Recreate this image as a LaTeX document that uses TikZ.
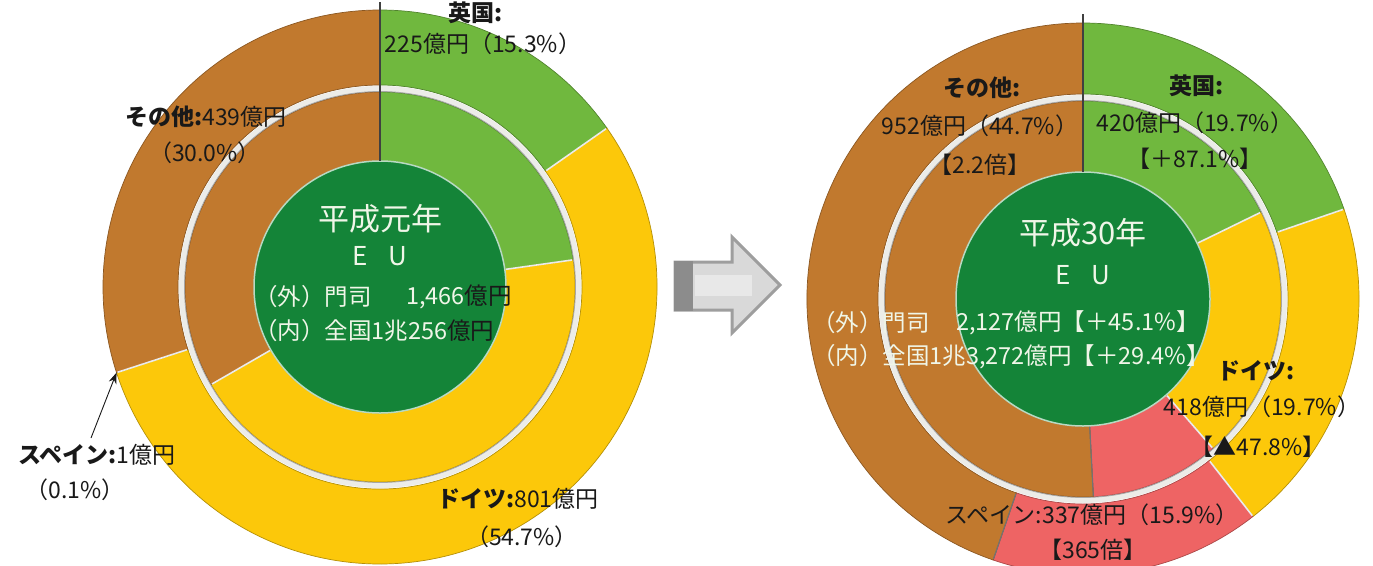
\documentclass[tikz,border=0pt]{standalone}
\usepackage{fontspec}
\setmainfont{Noto Sans CJK JP}
\usetikzlibrary{calc,arrows.meta}
\definecolor{cbrown}{RGB}{193,121,46}
\definecolor{cgreen}{RGB}{112,184,62}
\definecolor{cyellow}{RGB}{252,200,10}
\definecolor{cred}{RGB}{238,100,100}
\definecolor{cdisk}{RGB}{20,132,56}
\definecolor{ctext}{RGB}{25,25,25}
\definecolor{clight}{RGB}{240,246,232}
\definecolor{cgap}{RGB}{236,236,232}
\newcommand\ringsector[6]{%
  \filldraw[fill=#6, draw=#6!72!black, line width=0.7]
    ($(#1)+(#2:#4)$) arc[start angle=#2, end angle=#3, radius=#4]
    -- ($(#1)+(#3:#5)$) arc[start angle=#3, end angle=#2, radius=#5] -- cycle;}
\newcommand\sepline[5]{\draw[#5] ($(#1)+(#2:#3)$) -- ($(#1)+(#2:#4)$);}
\begin{document}
\begin{tikzpicture}[x=1pt,y=-1pt,
  lbl/.style={text=ctext, font=\fontsize{23}{26}\selectfont, inner sep=0pt},
  dsk/.style={text=clight, font=\fontsize{23.5}{26}\selectfont, inner sep=0pt},
  ttl/.style={text=clight, font=\fontsize{31}{34}\selectfont, inner sep=0pt},
  eu/.style={text=clight, font=\fontsize{26}{28}\selectfont, inner sep=0pt},
  sepw/.style={draw=white!92!black, line width=1.6},
  sepd/.style={draw=black!75, line width=1.3}]
\useasboundingbox (0,0) rectangle (1373,565);
\clip (0,0) rectangle (1373,565);
\fill[white] (0,0) rectangle (1373,565);
\coordinate (L) at (380,287);
\coordinate (R) at (1083,299);
% ---------- left chart ----------
\ringsector{L}{-90}{-35}{277}{202}{cgreen}
\ringsector{L}{-35}{162}{277}{202}{cyellow}
\ringsector{L}{162}{270}{277}{202}{cbrown}
\fill[cgap] (L) circle (201);
\ringsector{L}{-90}{-8}{195}{126}{cgreen}
\ringsector{L}{-8}{150}{195}{126}{cyellow}
\ringsector{L}{150}{270}{195}{126}{cbrown}
\draw[black!35, line width=0.8] (L) circle (195.5);
\filldraw[fill=cdisk, draw=white!70!cdisk, line width=1.5] (L) circle (126);
\sepline{L}{-35}{276}{203}{sepw}
\sepline{L}{162}{276}{203}{sepw}
\sepline{L}{-8}{194}{127}{sepw}
\sepline{L}{150}{194}{127}{sepw}
\sepline{L}{-90}{285}{126}{sepd}
% ---------- right chart ----------
\ringsector{R}{-90}{-19}{276}{205}{cgreen}
\ringsector{R}{-19}{52}{276}{205}{cyellow}
\ringsector{R}{52}{109}{276}{205}{cred}
\ringsector{R}{109}{270}{276}{205}{cbrown}
\fill[cgap] (R) circle (204);
\ringsector{R}{-90}{-26}{198}{127}{cgreen}
\ringsector{R}{-26}{49}{198}{127}{cyellow}
\ringsector{R}{49}{87}{198}{127}{cred}
\ringsector{R}{87}{270}{198}{127}{cbrown}
\draw[black!35, line width=0.8] (R) circle (198.5);
\filldraw[fill=cdisk, draw=white!70!cdisk, line width=1.5] (R) circle (127);
\sepline{R}{-19}{275}{206}{sepw}
\sepline{R}{52}{275}{206}{sepw}
\sepline{R}{109}{275}{206}{black!55, line width=1.2}
\sepline{R}{-26}{197}{128}{sepw}
\sepline{R}{49}{197}{128}{sepw}
\sepline{R}{87}{197}{128}{black!55, line width=1.2}
\sepline{R}{-90}{285}{127}{sepd}
% ---------- big arrow ----------
\filldraw[fill=black!15, draw=black!38, line width=3, line join=miter]
  (675,262) -- (732,262) -- (732,237) -- (780,285) -- (732,333) -- (732,310) -- (675,310) -- cycle;
\fill[black!45] (674,261) rectangle (693,311);
\fill[black!9] (695,275) rectangle (752,296);
% ---------- left texts ----------
\node[lbl] (luk1) at (476,13) {\bfseries 英国:};
\node[lbl] (luk2) at (483,44) {225億円（15.3\%）};
\node[lbl] (loth1) at (206,117) {{\bfseries その他:}439億円};
\node[lbl] (loth2) at (205,153) {（30.0\%）};
\node[ttl] (lyr) at (380,219) {平成元年};
\node[eu] (leu) at (380,256) {E\hspace{20pt}U};
\node[dsk, anchor=west] (lmoji) at (254,297) {（外）門司};
\node[dsk, anchor=east] (lmojiv) at (512,297) {1,466\textcolor{ctext}{億円}};
\node[dsk, anchor=west] (lall) at (254,331) {（内）全国1兆256\textcolor{ctext}{億円}};
\node[lbl] (lsp1) at (97,455) {{\bfseries スペイン:}1億円};
\node[lbl] (lsp2) at (75,490) {（0.1\%）};
\node[lbl] (lde1) at (518,499) {{\bfseries ドイツ:}801億円};
\node[lbl] (lde2) at (522,537) {（54.7\%）};
\coordinate (lsptail) at (91,438);
\coordinate (lsptip) at ($(L)+(162:277)$);
\draw[-{Stealth[length=11pt,width=8pt]}, line width=0.9, ctext] (lsptail) -- (lsptip);
% ---------- right texts ----------
\node[lbl] (roth1) at (982,88) {\bfseries その他:};
\node[lbl] (roth2) at (980,126) {952億円（44.7\%）};
\node[lbl] (roth3) at (980,165) {【2.2倍】};
\node[lbl] (ruk1) at (1197,86) {\bfseries 英国:};
\node[lbl] (ruk2) at (1195,123) {420億円（19.7\%）};
\node[lbl] (ruk3) at (1195,159) {【＋87.1\%】};
\node[ttl] (ryr) at (1083,233) {平成30年};
\node[eu] (reu) at (1083,275) {E\hspace{20pt}U};
\node[dsk, anchor=west] (rmoji) at (812,323) {（外）門司};
\node[dsk, anchor=west] (rmojiv) at (956,323) {2,127億円【＋45.1\%】};
\node[dsk, anchor=west] (rall) at (812,357) {（内）全国1兆3,272億円【＋29.4\%】};
\node[lbl] (rde1) at (1256,371) {\bfseries ドイツ:};
\node[lbl] (rde2) at (1262,407) {418億円（19.7\%）};
\node[lbl] (rde3) at (1258,447) {【▲47.8\%】};
\node[lbl] (rsp1) at (1092,515) {スペイン:337億円（15.9\%）};
\node[lbl] (rsp2) at (1093,550) {【365倍】};
\end{tikzpicture}
\end{document}
